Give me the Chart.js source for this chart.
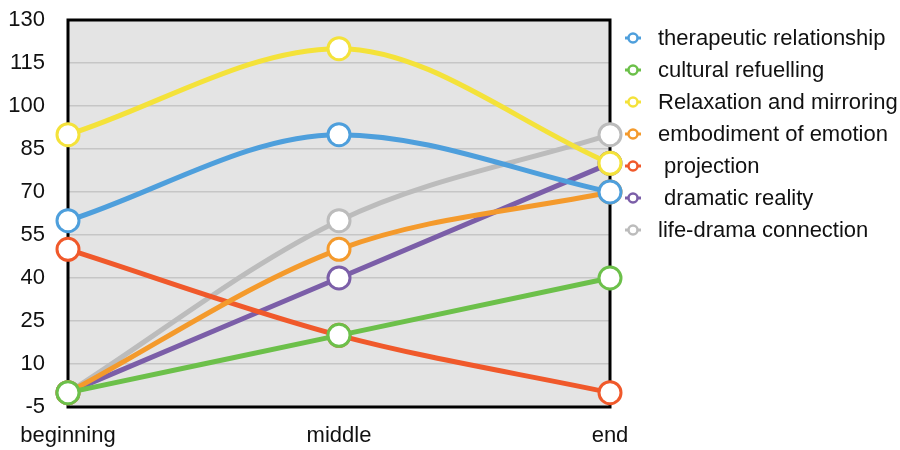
<!DOCTYPE html>
<html>
<head>
<meta charset="utf-8">
<script src="https://cdn.jsdelivr.net/npm/chart.js@4"></script>
<style>
  body { margin: 0; background: #fff; }
  #wrap { width: 900px; height: 450px; }
</style>
</head>
<body>
<div id="wrap"><canvas id="myChart"></canvas></div>
<script>
"use strict";
const stages = ["beginning", "middle", "end"];
const therapeutic = [60, 90, 70];
const cultural = [0, 20, 40];
const relaxation = [90, 120, 80];
const embodiment = [0, 50, 70];
const projection = [50, 20, 0];
const dramatic = [0, 40, 80];
const lifeDrama = [0, 60, 90];

const ctx = document.getElementById("myChart").getContext("2d");
const fontFamily = "'Liberation Sans', Arial, sans-serif";
const font = { family: fontFamily, size: 22 };

function makeSet(label, values, color) {
  return {
    label: label,
    data: values,
    borderColor: color,
    backgroundColor: "#ffffff",
    borderWidth: 5,
    pointRadius: 11,
    pointBorderWidth: 3,
    pointBackgroundColor: "#ffffff",
    pointBorderColor: color,
    cubicInterpolationMode: "monotone",
    clip: false,
  };
}

// gray plot background and black frame
const plotFrame = {
  id: "plotFrame",
  beforeDraw(chart) {
    const a = chart.chartArea;
    const c = chart.ctx;
    c.save();
    c.fillStyle = "#e4e4e4";
    c.fillRect(a.left, a.top, a.right - a.left, a.bottom - a.top);
    c.restore();
  },
  beforeDatasetsDraw(chart) {
    const a = chart.chartArea;
    const c = chart.ctx;
    c.save();
    c.strokeStyle = "#000";
    c.lineWidth = 3;
    c.strokeRect(a.left, a.top, a.right - a.left, a.bottom - a.top);
    c.restore();
  },
};

// legend on the right, drawn from the datasets
const sideLegend = {
  id: "sideLegend",
  afterDraw(chart) {
    const c = chart.ctx;
    const x0 = chart.chartArea.right + 23;
    c.save();
    c.font = "22px " + fontFamily;
    c.textBaseline = "middle";
    chart.data.datasets.forEach((ds, i) => {
      const y = 38 + i * 32;
      c.strokeStyle = ds.borderColor;
      c.lineWidth = 3;
      c.beginPath();
      c.moveTo(x0 - 8, y);
      c.lineTo(x0 + 8, y);
      c.stroke();
      c.beginPath();
      c.arc(x0, y, 4.5, 0, Math.PI * 2);
      c.fillStyle = "#fff";
      c.fill();
      c.lineWidth = 2.5;
      c.stroke();
      c.fillStyle = "#111";
      c.fillText(ds.label, x0 + 25, y + 1);
    });
    c.restore();
  },
};

new Chart(ctx, {
  type: "line",
  data: {
    labels: stages,
    datasets: [
      makeSet("therapeutic relationship", therapeutic, "#4e9fdc"),
      makeSet("cultural refuelling", cultural, "#6cc04a"),
      makeSet("Relaxation and mirroring", relaxation, "#f4e23a"),
      makeSet("embodiment of emotion", embodiment, "#f49a2c"),
      makeSet(" projection", projection, "#f0592b"),
      makeSet(" dramatic reality", dramatic, "#7b5ea8"),
      makeSet("life-drama connection", lifeDrama, "#bcbcbc"),
    ],
  },
  options: {
    responsive: true,
    maintainAspectRatio: false,
    animation: false,
    layout: { autoPadding: false, padding: { left: 0, top: 0, right: 290, bottom: 0 } },
    plugins: {
      legend: { display: false },
      tooltip: { enabled: false },
    },
    scales: {
      x: {
        offset: false,
        afterFit(scale) { scale.height = 43; },
        grid: { display: false, drawTicks: false },
        border: { display: false },
        ticks: { color: "#111", font: font, padding: 16 },
      },
      y: {
        min: -5,
        max: 130,
        afterFit(scale) {
          scale.width = 68;
          scale.paddingTop = 20;
          scale.paddingBottom = 0;
        },
        ticks: { stepSize: 15, color: "#111", font: font, padding: 23 },
        grid: { color: "#c6c6c6", lineWidth: 1.5, drawTicks: false },
        border: { display: false },
      },
    },
  },
  plugins: [plotFrame, sideLegend],
});
</script>
</body>
</html>
